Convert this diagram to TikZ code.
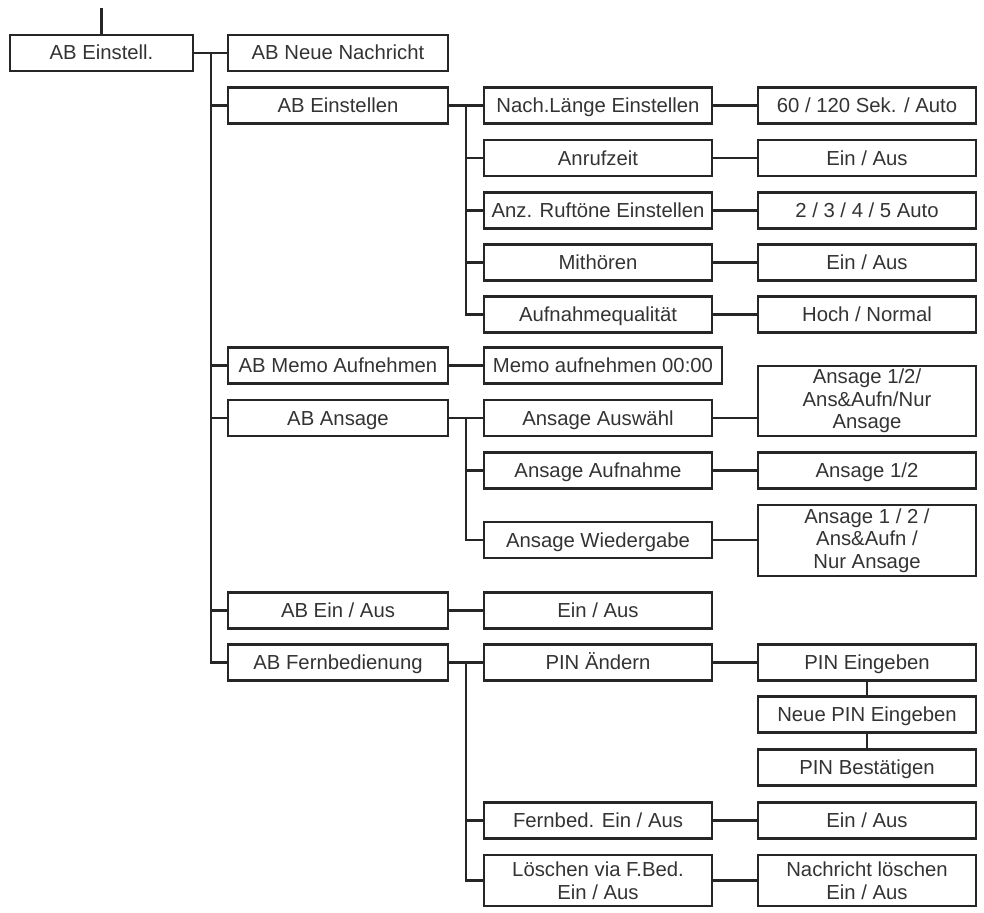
\documentclass[tikz,border=0pt]{standalone}
\usepackage{fontspec}
\setmainfont{Liberation Sans}
\usetikzlibrary{positioning}

\begin{document}
\begin{tikzpicture}[
    x=1pt, y=-1pt,
    line width=2.4pt, draw=black!85,
    menu/.style={draw, align=center, inner sep=1pt, minimum height=36pt,
        font=\fontsize{20.3}{22.5}\selectfont, text=black!80},
    oneline/.style={text height=14pt, text depth=0pt},
    lvlone/.style={menu, oneline, minimum width=220pt},
    lvltwo/.style={menu, oneline, minimum width=228pt},
    lvlthree/.style={menu, oneline, minimum width=218pt},
    lvltwomulti/.style={menu, minimum width=228pt},
    lvlthreemulti/.style={menu, minimum width=218pt}
]
\useasboundingbox (0,0) rectangle (984,912);
% main entry
\node[menu, oneline, minimum width=183pt] (root) at (101.5,53) {AB Einstell.};
\coordinate (top) at (101.5,8);
% first level
\node[lvlone] (neue) at (338,53) {AB Neue Nachricht};
\node[lvlone] (einst) at (338,105.5) {AB Einstellen};
\node[lvlone] (memo) at (338,365.5) {AB Memo Aufnehmen};
\node[lvlone] (ansage) at (338,418) {AB Ansage};
\node[lvlone] (einaus) at (338,610.5) {AB Ein / Aus};
\node[lvlone] (fern) at (338,662.5) {AB Fernbedienung};
% second level
\node[lvltwo] (laenge) at (598,105.5) {Nach.Länge Einstellen};
\node[lvltwo] (anruf) at (598,158) {Anrufzeit};
\node[lvltwo] (ruft) at (598,210.5) {Anz. Ruftöne Einstellen};
\node[lvltwo] (mithoer) at (598,262.5) {Mithören};
\node[lvltwo] (qual) at (598,314.5) {Aufnahmequalität};
\node[menu, oneline, minimum width=238pt] (memoauf) at (603,365.5) {Memo aufnehmen 00:00};
\node[lvltwo] (auswahl) at (598,418) {Ansage Auswähl};
\node[lvltwo] (aufnahme) at (598,470.5) {Ansage Aufnahme};
\node[lvltwo] (wieder) at (598,540) {Ansage Wiedergabe};
\node[lvltwo] (einausv) at (598,610.5) {Ein / Aus};
\node[lvltwo] (pin) at (598,662.5) {PIN Ändern};
\node[lvltwo] (fernein) at (598,820.5) {Fernbed. Ein / Aus};
\node[lvltwomulti, minimum height=51pt] (loesch) at (598,880.5) {Löschen via F.Bed.\\Ein / Aus};
% third level
\node[lvlthree] (laengev) at (867,105.5) {60 / 120 Sek. / Auto};
\node[lvlthree] (anrufv) at (867,158) {Ein / Aus};
\node[lvlthree] (ruftv) at (867,210.5) {2 / 3 / 4 / 5 Auto};
\node[lvlthree] (mithoerv) at (867,262.5) {Ein / Aus};
\node[lvlthree] (qualv) at (867,314.5) {Hoch / Normal};
\node[lvlthreemulti, minimum height=70pt] (auswahlv) at (867,401) {Ansage 1/2/\\Ans\&Aufn/Nur\\Ansage};
\node[lvlthree] (aufnahmev) at (867,470.5) {Ansage 1/2};
\node[lvlthreemulti, minimum height=71pt] (wiederv) at (867,540.5) {Ansage 1 / 2 /\\Ans\&Aufn /\\Nur Ansage};
\node[lvlthree] (pinein) at (867,662.5) {PIN Eingeben};
\node[lvlthree] (pinneu) at (867,714.5) {Neue PIN Eingeben};
\node[lvlthree] (pinbest) at (867,767.5) {PIN Bestätigen};
\node[lvlthree] (ferneinv) at (867,820.5) {Ein / Aus};
\node[lvlthreemulti, minimum height=51pt] (loeschv) at (867,880.5) {Nachricht löschen\\Ein / Aus};
% junction points
\coordinate (t0) at (211,53);
\coordinate (t1) at (466,105.5);
\coordinate (t2) at (466,418);
\coordinate (t3) at (466,662.5);
% connectors
\draw (top) -- (root.north);
\draw (root.east) -- (t0) -- (neue.west);
\draw (t0) |- (einst.west);
\draw (t0) |- (memo.west);
\draw (t0) |- (ansage.west);
\draw (t0) |- (einaus.west);
\draw (t0) |- (fern.west);
\draw (einst.east) -- (t1) -- (laenge.west);
\draw (t1) |- (anruf.west);
\draw (t1) |- (ruft.west);
\draw (t1) |- (mithoer.west);
\draw (t1) |- (qual.west);
\draw (memo.east) -- (memoauf.west);
\draw (ansage.east) -- (t2) -- (auswahl.west);
\draw (t2) |- (aufnahme.west);
\draw (t2) |- (wieder.west);
\draw (einaus.east) -- (einausv.west);
\draw (fern.east) -- (t3) -- (pin.west);
\draw (t3) |- (fernein.west);
\draw (t3) |- (loesch.west);
\draw (laenge.east) -- (laengev.west);
\draw (anruf.east) -- (anrufv.west);
\draw (ruft.east) -- (ruftv.west);
\draw (mithoer.east) -- (mithoerv.west);
\draw (qual.east) -- (qualv.west);
\draw (auswahl.east) -- (auswahl.east -| auswahlv.west);
\draw (aufnahme.east) -- (aufnahmev.west);
\draw (wieder.east) -- (wieder.east -| wiederv.west);
\draw (pin.east) -- (pinein.west);
\draw (pinein.south) -- (pinneu.north);
\draw (pinneu.south) -- (pinbest.north);
\draw (fernein.east) -- (ferneinv.west);
\draw (loesch.east) -- (loeschv.west);
\end{tikzpicture}
\end{document}
